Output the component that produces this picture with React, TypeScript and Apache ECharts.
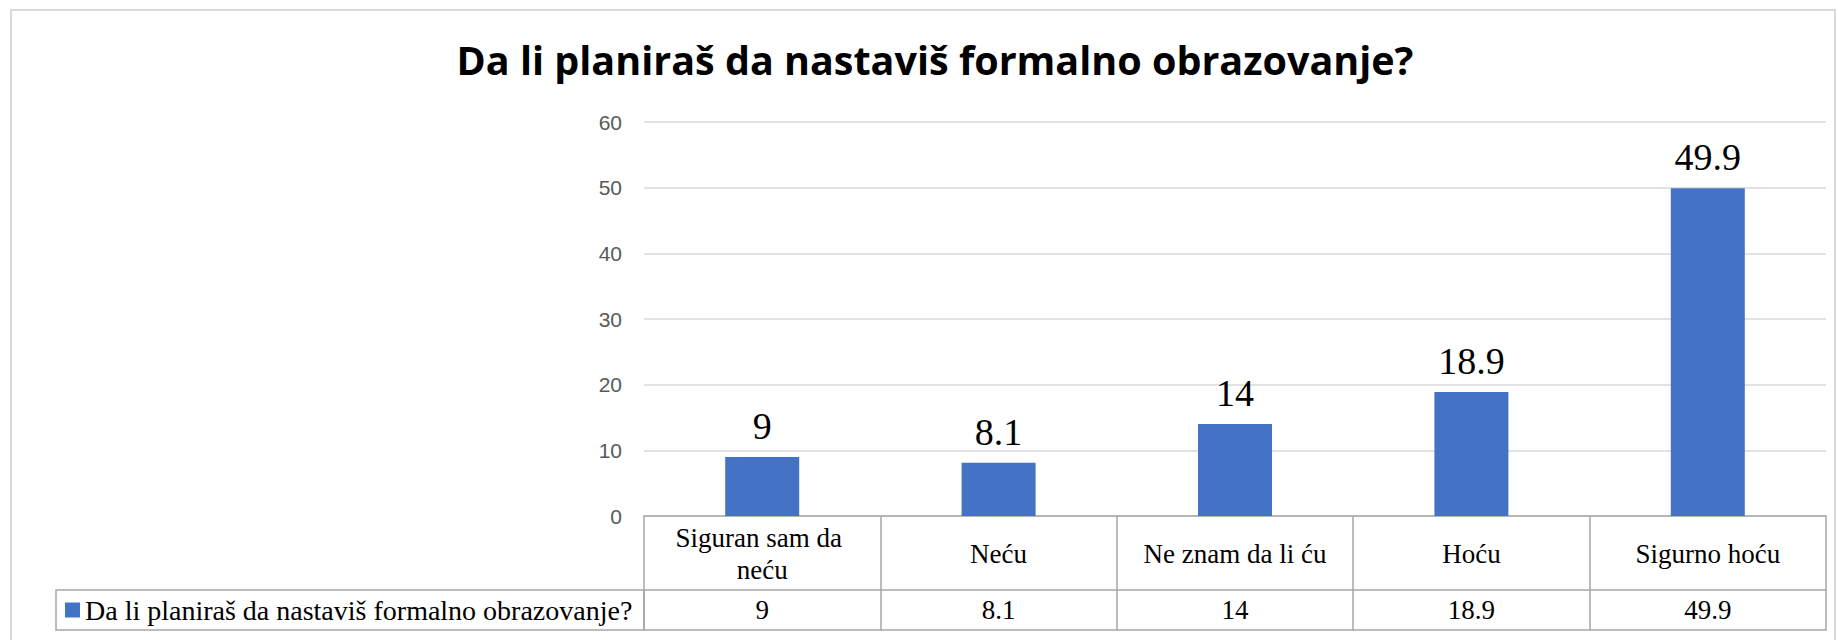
import React, { useEffect, useRef } from "react";
import * as echarts from "echarts";

const titleText = "Da li planiraš da nastaviš formalno obrazovanje?";
const seriesName = "Da li planiraš da nastaviš formalno obrazovanje?";
const categories = ["Siguran sam da neću", "Neću", "Ne znam da li ću", "Hoću", "Sigurno hoću"];
const values = [9, 8.1, 14, 18.9, 49.9];
const yTicks = { min: 0, max: 60, interval: 10 };

const SERIF = "'Liberation Serif', 'DejaVu Serif', serif";
const SANS = "'Liberation Sans', Arial, sans-serif";

export default function App() {
  const ref = useRef<HTMLDivElement>(null);
  useEffect(() => {
    document.body.style.margin = "0";
    if (!ref.current) return;
    const chart = echarts.init(ref.current, undefined, { renderer: "svg" });
    const gridLeft = 644;
    const gridRight = 12;
    const gridTop = 122;
    const gridBottom = 124;
    chart.setOption({
      animation: false,
      backgroundColor: "#ffffff",
      title: {
        text: titleText,
        left: 930,
        top: 35,
        textAlign: "center",
        textStyle: {
          fontFamily: "'Open Sans', sans-serif",
          fontWeight: 700,
          fontSize: 39.5,
          color: "#000000",
        },
      },
      grid: { left: gridLeft, right: gridRight, top: gridTop, bottom: gridBottom, containLabel: false },
      legend: {
        left: 65,
        top: 596,
        padding: 0,
        icon: "rect",
        itemWidth: 15,
        itemHeight: 15,
        selectedMode: false,
        textStyle: { fontFamily: SERIF, fontSize: 28, color: "#000000" },
        data: [seriesName],
      },
      xAxis: [
        {
          type: "category",
          data: categories,
          position: "bottom",
          axisLine: { show: true, lineStyle: { color: "#a6a6a6", width: 1.5 } },
          axisTick: { show: true, length: 114, lineStyle: { color: "#a6a6a6", width: 1.5 } },
          axisLabel: {
            interval: 0,
            fontFamily: SERIF,
            fontSize: 27,
            color: "#000000",
            width: 200,
            overflow: "break",
            lineHeight: 32,
            verticalAlign: "middle",
            margin: 38,
          },
          splitLine: { show: false },
        },
        {
          type: "category",
          data: values.map((v) => String(v)),
          position: "bottom",
          offset: 74,
          axisLine: { show: true, lineStyle: { color: "#a6a6a6", width: 1.5 } },
          axisTick: { show: false },
          axisLabel: {
            interval: 0,
            fontFamily: SERIF,
            fontSize: 27,
            color: "#000000",
            verticalAlign: "middle",
            margin: 20,
          },
        },
        {
          type: "category",
          data: categories,
          position: "bottom",
          offset: 114,
          axisLine: { show: true, lineStyle: { color: "#a6a6a6", width: 1.5 } },
          axisTick: { show: false },
          axisLabel: { show: false },
        },
      ],
      yAxis: {
        type: "value",
        min: yTicks.min,
        max: yTicks.max,
        interval: yTicks.interval,
        axisLine: { show: false },
        axisTick: { show: false },
        axisLabel: { fontFamily: SANS, fontSize: 21, color: "#595959", margin: 22 },
        splitLine: { lineStyle: { color: "#d9d9d9", width: 1.5 } },
      },
      series: [
        {
          name: seriesName,
          type: "bar",
          xAxisIndex: 0,
          data: values,
          barWidth: 74,
          itemStyle: { color: "#4472C4" },
          label: {
            show: true,
            position: "top",
            distance: 12,
            fontFamily: SERIF,
            fontSize: 38,
            color: "#000000",
          },
        },
      ],
      graphic: [
        {
          type: "rect",
          shape: { x: 56, y: 590, width: gridLeft - 56, height: 40 },
          style: { fill: "none", stroke: "#a6a6a6", lineWidth: 1.5 },
          silent: true,
        },
        {
          type: "rect",
          shape: { x: 11, y: 10, width: 1824, height: 660 },
          style: { fill: "none", stroke: "#d9d9d9", lineWidth: 2 },
          silent: true,
        },
      ],
    });
    return () => chart.dispose();
  }, []);
  return <div ref={ref} style={{ width: 1838, height: 640 }} />;
}
